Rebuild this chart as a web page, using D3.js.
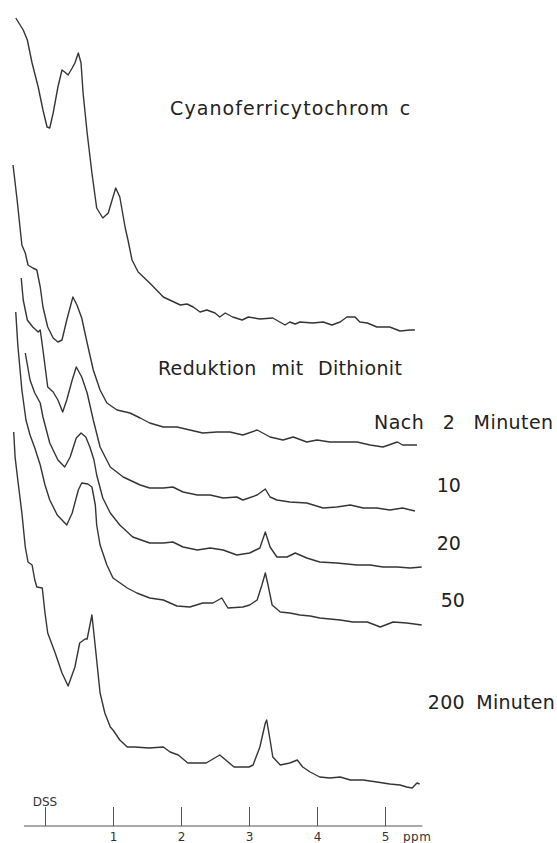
<!DOCTYPE html>
<html>
<head>
<meta charset="utf-8">
<script src="https://cdn.jsdelivr.net/npm/d3@7"></script>
<style>
  body { margin: 0; background: #fff; }
  svg { display: block; }
  .trace { fill: none; stroke: #353535; stroke-width: 1.4; stroke-linejoin: round; }
  .label { font-family: "DejaVu Sans", sans-serif; font-size: 19px; fill: #222; }
  .axis text { font-family: "DejaVu Sans", sans-serif; font-size: 12px; fill: #333; }
  .axis line { stroke: #555; }
</style>
</head>
<body>
<svg id="chart" width="557" height="843"></svg>
<script>
// spectra: chemical shift (ppm) and pen height above the axis (arbitrary units)
const cyanoPpm = [-0.43,-0.32,-0.26,-0.19,-0.10,-0.03,0.03,0.07,0.12,0.19,0.25,0.29,0.34,0.40,0.44,0.49,0.53,0.56,0.62,0.69,0.76,0.85,0.93,1.00,1.04,1.10,1.18,1.22,1.28,1.37,1.54,1.74,1.99,2.09,2.18,2.28,2.38,2.50,2.57,2.65,2.76,2.90,2.99,3.16,3.35,3.53,3.60,3.68,3.75,3.94,4.09,4.22,4.34,4.44,4.56,4.63,4.74,4.88,5.07,5.22,5.37,5.44];
const cyanoInt = [80.8,79.6,78.6,76.3,73.9,71.6,69.9,69.8,71.3,73.9,75.6,75.4,75.1,75.8,76.3,77.3,76.3,73.3,69.3,65.3,61.8,60.8,61.3,62.9,63.8,62.9,59.8,58.6,56.6,55.4,54.3,52.9,52.1,52.2,51.9,51.4,51.6,51.3,50.9,51.3,50.9,50.6,50.9,50.7,50.8,50.1,50.4,50.2,50.4,50.3,50.4,50.1,50.4,50.9,50.9,50.4,50.3,49.9,49.9,49.5,49.6,49.6];

const min2Ppm = [-0.47,-0.41,-0.34,-0.29,-0.25,-0.18,-0.12,-0.07,-0.03,0.04,0.12,0.19,0.25,0.32,0.41,0.47,0.54,0.62,0.71,0.81,0.91,1.06,1.25,1.40,1.54,1.74,1.94,2.13,2.32,2.53,2.72,2.91,3.12,3.31,3.50,3.65,3.85,4.00,4.19,4.38,4.59,4.78,4.97,5.18,5.26,5.47];
const min2Int = [66.1,62.6,58.1,57.3,56.1,55.8,55.6,53.9,51.9,49.9,48.8,48.4,48.6,50.6,52.9,52.1,50.8,48.3,45.6,43.6,42.3,41.6,41.3,40.8,40.3,39.9,39.9,39.6,39.3,39.4,39.4,39.1,39.6,38.9,38.6,38.9,38.4,38.6,38.4,38.4,38.4,38.1,37.9,38.4,38.1,38.1];

const min10Ppm = [-0.35,-0.32,-0.26,-0.18,-0.10,-0.07,-0.03,0.04,0.12,0.19,0.26,0.32,0.40,0.46,0.54,0.62,0.71,0.81,0.96,1.15,1.40,1.54,1.74,1.88,2.03,2.24,2.43,2.62,2.82,2.91,3.12,3.24,3.31,3.41,3.60,3.85,4.09,4.29,4.49,4.68,4.88,5.07,5.26,5.44];
const min10Int = [54.8,52.6,50.6,49.9,49.4,49.6,47.6,43.9,43.4,42.6,41.4,42.6,44.6,45.9,44.9,43.3,40.6,37.9,35.9,34.9,34.1,33.8,33.8,33.9,33.4,33.1,33.1,32.8,32.9,32.6,33.1,33.7,32.9,32.6,32.4,32.3,31.8,31.9,32.1,31.8,31.8,31.6,31.8,31.5];

const min20Ppm = [-0.29,-0.22,-0.15,-0.07,-0.03,0.07,0.19,0.29,0.37,0.46,0.53,0.60,0.66,0.72,0.76,0.85,0.96,1.10,1.29,1.54,1.74,1.88,2.03,2.24,2.43,2.62,2.82,3.01,3.16,3.24,3.31,3.41,3.56,3.68,3.85,4.04,4.29,4.59,4.78,4.97,5.18,5.37,5.54];
const min20Int = [47.3,44.6,43.3,42.3,40.9,38.3,36.6,35.9,36.9,38.8,39.3,38.9,37.9,36.6,35.1,32.8,31.3,30.1,28.9,28.3,28.3,28.4,27.9,27.6,27.8,27.6,27.1,27.3,27.8,29.4,27.9,26.9,26.9,27.3,26.8,26.4,26.3,26.1,26.1,25.9,25.9,25.8,25.9];

const min50Ppm = [-0.43,-0.40,-0.34,-0.28,-0.22,-0.15,-0.07,0.00,0.07,0.18,0.25,0.32,0.40,0.49,0.54,0.63,0.69,0.74,0.76,0.81,0.91,1.00,1.21,1.35,1.54,1.74,1.94,2.13,2.32,2.47,2.60,2.69,2.91,3.01,3.12,3.19,3.24,3.28,3.34,3.46,3.60,3.75,3.90,4.04,4.19,4.34,4.53,4.74,4.93,5.12,5.32,5.54];
const min50Int = [51.4,48.1,43.6,40.6,39.1,37.8,36.1,34.1,32.6,31.1,30.6,30.1,31.3,33.6,34.3,34.2,33.9,32.1,30.1,28.1,26.1,24.8,23.8,23.3,22.8,22.6,22.0,21.9,22.3,22.3,22.8,21.8,21.9,22.1,22.6,24.1,25.3,24.1,22.1,21.4,21.3,21.1,21.0,20.8,20.7,20.6,20.4,20.4,19.9,20.4,20.3,20.1];

const min200Ppm = [-0.46,-0.44,-0.40,-0.34,-0.29,-0.25,-0.19,-0.15,-0.12,-0.04,0.00,0.04,0.15,0.25,0.34,0.44,0.51,0.59,0.62,0.69,0.74,0.81,0.88,0.96,1.00,1.10,1.21,1.32,1.53,1.74,1.84,1.96,2.10,2.37,2.57,2.78,3.00,3.06,3.16,3.24,3.26,3.31,3.35,3.46,3.60,3.71,3.79,3.90,4.04,4.19,4.34,4.49,4.68,4.88,5.07,5.22,5.32,5.40,5.47,5.51];
const min200Int = [39.4,36.9,34.6,31.3,27.9,26.4,26.1,24.6,23.9,23.8,21.3,19.3,17.3,15.3,14.0,15.9,18.3,18.7,18.7,21.1,17.9,13.3,11.3,9.9,9.6,8.6,7.9,7.9,7.8,7.9,7.4,7.1,6.3,6.3,7.1,5.9,5.9,6.1,7.9,10.3,10.6,8.6,6.9,6.1,6.3,6.6,5.9,5.4,4.9,4.8,4.9,4.6,4.6,4.4,4.2,4.1,3.9,3.8,4.3,4.2];

// axis
const tickValues = [0, 1, 2, 3, 4, 5];
const tickLabels = ["", "1", "2", "3", "4", "5"];
const axisExtent = [-0.31, 5.55];

// text on the figure
const labelTexts = ["Cyanoferricytochrom c", "Reduktion mit Dithionit", "Nach 2 Minuten", "10", "20", "50", "200 Minuten"];

const width = 557, height = 843;
const svg = d3.select("#chart");

const x = d3.scaleLinear().domain([0, 5]).range([45, 385]);
const y = d3.scaleLinear().domain([0, 82.6]).range([826, 0]);

const spectra = [
  {ppm: cyanoPpm, int: cyanoInt},
  {ppm: min2Ppm, int: min2Int},
  {ppm: min10Ppm, int: min10Int},
  {ppm: min20Ppm, int: min20Int},
  {ppm: min50Ppm, int: min50Int},
  {ppm: min200Ppm, int: min200Int}
];

const line = d3.line()
  .x(d => x(d[0]))
  .y(d => y(d[1]));

svg.selectAll("path.trace")
  .data(spectra)
  .enter()
  .append("path")
  .attr("class", "trace")
  .attr("d", s => line(d3.zip(s.ppm, s.int)));

// ppm axis with ticks pointing up
const axis = d3.axisBottom(x)
  .tickValues(tickValues)
  .tickFormat((d, i) => tickLabels[i])
  .tickSizeInner(-19)
  .tickSizeOuter(0)
  .tickPadding(6);

const gAxis = svg.append("g")
  .attr("class", "axis")
  .attr("transform", "translate(0," + y(0) + ")")
  .call(axis);
gAxis.select(".domain").remove();
gAxis.append("line")
  .attr("x1", x(axisExtent[0]))
  .attr("x2", x(axisExtent[1]))
  .attr("y1", 0).attr("y2", 0);
gAxis.selectAll(".tick line").attr("stroke", "#555");

gAxis.append("text")
  .attr("x", x(5) + 18)
  .attr("y", 6)
  .attr("dy", "0.71em")
  .attr("font-size", "11px")
  .attr("text-anchor", "start")
  .attr("letter-spacing", "0.5")
  .text("ppm");

gAxis.append("text")
  .attr("x", x(0))
  .attr("y", -20)
  .attr("text-anchor", "middle")
  .attr("font-size", "12px")
  .text("DSS");

// labels, placed in chart units (ppm, height)
const labelPos = [
  {x: 1.84, y: 71.1, len: 240, ws: 3},
  {x: 1.66, y: 45.1, len: 244, ws: 8},
  {x: 4.84, y: 39.7, len: 179, ws: 12},
  {x: 5.76, y: 33.4},
  {x: 5.76, y: 27.6},
  {x: 5.82, y: 21.9},
  {x: 5.63, y: 11.7, len: 127, ws: 5}
];

svg.selectAll("text.label")
  .data(labelTexts)
  .enter()
  .append("text")
  .attr("class", "label")
  .attr("x", (d, i) => x(labelPos[i].x))
  .attr("y", (d, i) => y(labelPos[i].y))
  .attr("word-spacing", (d, i) => labelPos[i].ws || 0)
  .each(function(d, i) {
    if (labelPos[i].len) {
      d3.select(this).attr("textLength", labelPos[i].len).attr("lengthAdjust", "spacing");
    }
  })
  .text(d => d);
</script>
</body>
</html>
